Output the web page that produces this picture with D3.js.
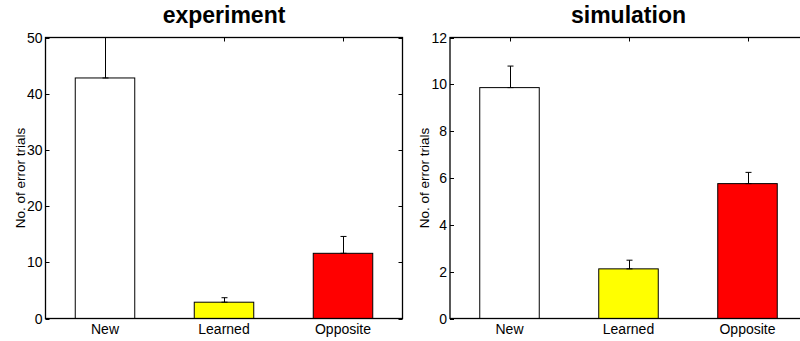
<!DOCTYPE html>
<html>
<head>
<meta charset="utf-8">
<script src="https://cdn.jsdelivr.net/npm/d3@7/dist/d3.min.js"></script>
<style>
  html, body { margin: 0; padding: 0; background: #fff; }
  svg { display: block; font-family: "Liberation Sans", Arial, Helvetica, sans-serif; }
</style>
</head>
<body>
<svg id="chart" width="800" height="341"></svg>
<script>
// Error-trial counts per condition
const categories = ["New", "Learned", "Opposite"];
const barColors = ["#ffffff", "#ffff00", "#ff0000"];

const experimentMeans = [42.8, 2.9, 11.6];
const experimentUpper = [50.0, 3.7, 14.6];
const experimentTicks = [0, 10, 20, 30, 40, 50];

const simulationMeans = [9.86, 2.12, 5.76];
const simulationUpper = [10.78, 2.49, 6.24];
const simulationTicks = [0, 2, 4, 6, 8, 10, 12];

const yLabel = "No. of error trials";

const svg = d3.select("#chart");

function drawPanel(opts) {
  const { left, top, width, height, title, means, upper, ticks, yMax } = opts;
  const g = svg.append("g");

  // category positions 1..n, domain padded by half a slot on each side
  const x = d3.scaleLinear().domain([0.5, categories.length + 0.5]).range([left, left + width]);
  const y = d3.scaleLinear().domain([0, yMax]).range([top + height, top]);
  const barHalf = 0.25;
  const tickLen = 4;

  // inward tick marks (drawn beneath the bars)
  const tk = g.append("g").attr("stroke", "#000").attr("stroke-width", 1);
  ticks.forEach(t => {
    const yy = Math.round(y(t)) + 0.5;
    tk.append("line").attr("x1", left).attr("x2", left + tickLen).attr("y1", yy).attr("y2", yy);
    tk.append("line").attr("x1", left + width).attr("x2", left + width - tickLen).attr("y1", yy).attr("y2", yy);
  });
  categories.forEach((c, i) => {
    const xx = Math.round(x(i + 1)) + 0.5;
    tk.append("line").attr("x1", xx).attr("x2", xx).attr("y1", top).attr("y2", top + tickLen);
    tk.append("line").attr("x1", xx).attr("x2", xx).attr("y1", top + height).attr("y2", top + height - tickLen);
  });

  // bars
  g.selectAll("rect.bar").data(means).enter().append("rect")
    .attr("class", "bar")
    .attr("x", (d, i) => x(i + 1 - barHalf))
    .attr("y", d => y(d))
    .attr("width", (d, i) => x(i + 1 + barHalf) - x(i + 1 - barHalf))
    .attr("height", d => y(0) - y(d))
    .attr("fill", (d, i) => barColors[i])
    .attr("stroke", "#000")
    .attr("stroke-width", 1);

  // upper error bars with caps
  const eb = g.append("g").attr("stroke", "#000").attr("stroke-width", 1);
  means.forEach((m, i) => {
    const xx = Math.round(x(i + 1)) + 0.5;
    eb.append("line").attr("x1", xx).attr("x2", xx).attr("y1", y(m)).attr("y2", y(upper[i]));
    eb.append("line").attr("x1", xx - 3).attr("x2", xx + 3).attr("y1", y(upper[i])).attr("y2", y(upper[i]));
    eb.append("line").attr("x1", xx - 3).attr("x2", xx + 3).attr("y1", y(m)).attr("y2", y(m));
  });

  // axes box
  g.append("rect")
    .attr("x", left).attr("y", top)
    .attr("width", width).attr("height", height)
    .attr("fill", "none").attr("stroke", "#000").attr("stroke-width", 1.3);

  // y tick labels
  g.selectAll("text.ytick").data(ticks).enter().append("text")
    .attr("class", "ytick")
    .attr("x", left - 3)
    .attr("y", d => y(d))
    .attr("dy", "0.36em")
    .attr("text-anchor", "end")
    .attr("font-size", 14)
    .text(d => d);

  // category labels
  g.selectAll("text.xtick").data(categories).enter().append("text")
    .attr("class", "xtick")
    .attr("x", (d, i) => x(i + 1))
    .attr("y", top + height + 15.5)
    .attr("text-anchor", "middle")
    .attr("font-size", 14)
    .text(d => d);

  // y axis title
  g.append("text")
    .attr("transform", `translate(${left - 21},${top + height / 2}) rotate(-90)`)
    .attr("text-anchor", "middle")
    .attr("font-size", 13.5)
    .text(yLabel);

  // panel title
  g.append("text")
    .attr("x", left + width / 2)
    .attr("y", 23)
    .attr("text-anchor", "middle")
    .attr("font-size", 23)
    .attr("font-weight", "bold")
    .text(title);
}

drawPanel({
  left: 45.5, top: 37.5, width: 357, height: 281,
  title: "experiment", means: experimentMeans, upper: experimentUpper,
  ticks: experimentTicks, yMax: 50
});

drawPanel({
  left: 450, top: 37.5, width: 357, height: 281,
  title: "simulation", means: simulationMeans, upper: simulationUpper,
  ticks: simulationTicks, yMax: 12
});
</script>
</body>
</html>
